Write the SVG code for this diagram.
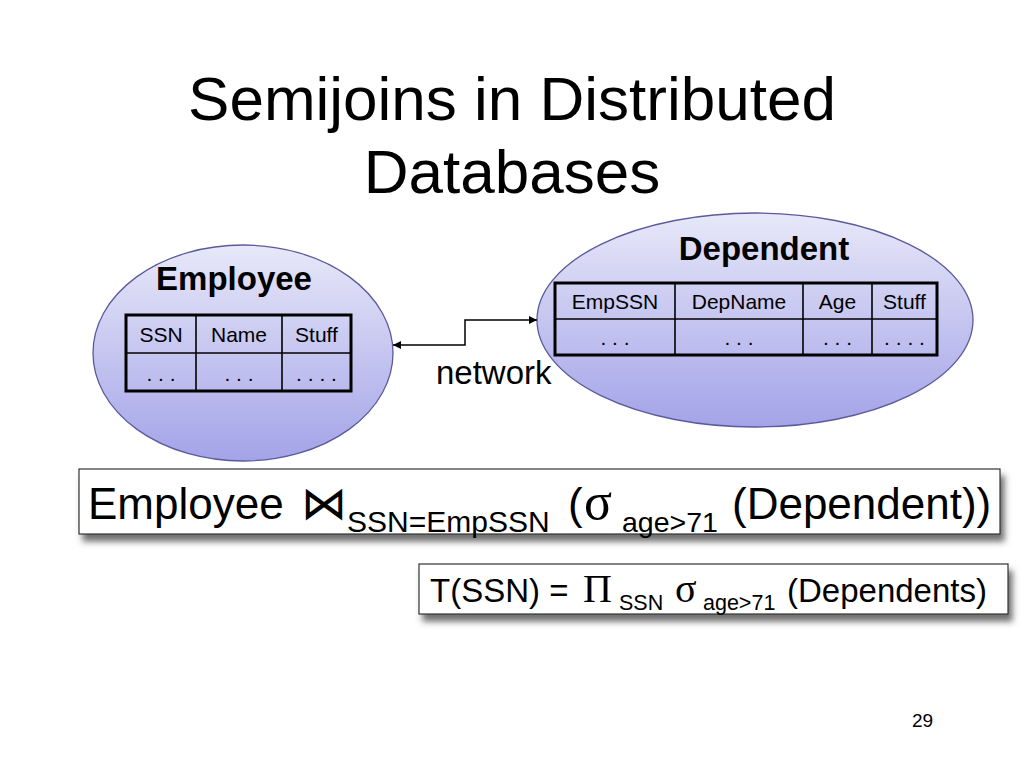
<svg xmlns="http://www.w3.org/2000/svg" width="1024" height="768" viewBox="0 0 1024 768">
  <defs>
    <linearGradient id="blob" x1="0" y1="0" x2="0" y2="1">
      <stop offset="0" stop-color="#e8e8f9"/>
      <stop offset="1" stop-color="#a3a3e8"/>
    </linearGradient>
    <filter id="shadow" x="-5%" y="-20%" width="112%" height="160%">
      <feGaussianBlur in="SourceAlpha" stdDeviation="3"/>
      <feOffset dx="4" dy="7" result="b"/>
      <feFlood flood-color="#404040" flood-opacity="0.75"/>
      <feComposite in2="b" operator="in"/>
      <feMerge><feMergeNode/><feMergeNode in="SourceGraphic"/></feMerge>
    </filter>
    <marker id="arr" viewBox="0 0 10 10" refX="10" refY="5" markerWidth="10" markerHeight="8" markerUnits="userSpaceOnUse" orient="auto-start-reverse">
      <path d="M0,0 L10,5 L0,10 z" fill="#000"/>
    </marker>
    <style>
      .sans { font-family: "Liberation Sans", Arial, sans-serif; fill: #000; }
      .serif { font-family: "Liberation Serif", "Times New Roman", serif; fill: #000; }
      .math { font-family: "DejaVu Sans", sans-serif; fill: #000; }
      .blob { fill: url(#blob); stroke: #5a5a9c; stroke-width: 1.3; }
      .outer { fill: none; stroke: #000; stroke-width: 3; }
      .inner { stroke: #000; stroke-width: 1.6; }
      .hdr { font-size: 21px; text-anchor: middle; }
      .box { fill: #fff; stroke: #333; stroke-width: 1.2; }
      .conn { fill: none; stroke: #000; stroke-width: 1.5; }
    </style>
  </defs>

  <rect width="1024" height="768" fill="#fff"/>

  <g id="title" class="sans" font-size="62" text-anchor="middle">
    <text x="512" y="120">Semijoins in Distributed</text>
    <text x="512" y="193">Databases</text>
  </g>

  <g id="employee">
    <ellipse class="blob" cx="243" cy="353" rx="150" ry="108"/>
    <text class="sans" x="234" y="290" font-size="33" font-weight="bold" text-anchor="middle">Employee</text>
    <rect class="outer" x="126" y="315" width="225" height="76"/>
    <line class="inner" x1="126" y1="353" x2="351" y2="353"/>
    <line class="inner" x1="196" y1="315" x2="196" y2="391"/>
    <line class="inner" x1="282" y1="315" x2="282" y2="391"/>
    <g class="sans hdr">
      <text x="161" y="342">SSN</text>
      <text x="239" y="342">Name</text>
      <text x="316.5" y="342">Stuff</text>
      <text x="161" y="381">. . .</text>
      <text x="239" y="381">. . .</text>
      <text x="316.5" y="381">. . . .</text>
    </g>
  </g>

  <g id="dependent">
    <ellipse class="blob" cx="755" cy="320" rx="218" ry="107"/>
    <text class="sans" x="764" y="260" font-size="33" font-weight="bold" text-anchor="middle">Dependent</text>
    <rect class="outer" x="555" y="283" width="382" height="72"/>
    <line class="inner" x1="555" y1="319" x2="937" y2="319"/>
    <line class="inner" x1="675" y1="283" x2="675" y2="355"/>
    <line class="inner" x1="803" y1="283" x2="803" y2="355"/>
    <line class="inner" x1="872" y1="283" x2="872" y2="355"/>
    <g class="sans hdr">
      <text x="615" y="309">EmpSSN</text>
      <text x="739" y="309">DepName</text>
      <text x="837.5" y="309">Age</text>
      <text x="904.5" y="309">Stuff</text>
      <text x="615" y="345">. . .</text>
      <text x="739" y="345">. . .</text>
      <text x="837.5" y="345">. . .</text>
      <text x="904.5" y="345">. . . .</text>
    </g>
  </g>

  <g id="connectors">
    <path class="conn" d="M393,345 L465,345 L465,320 L537,320" marker-start="url(#arr)" marker-end="url(#arr)"/>
    <text class="sans" x="436" y="384" font-size="33">network</text>
  </g>

  <g id="formula-join">
    <rect class="box" x="79" y="469" width="921" height="65" filter="url(#shadow)"/>
    <text class="sans" x="88" y="519" font-size="44">Employee</text>
    <text class="math" x="301" y="519" font-size="46" font-weight="200">⋈</text>
    <text class="sans" x="347" y="532" font-size="30">SSN=EmpSSN</text>
    <text class="sans" x="568" y="519" font-size="44">(</text>
    <text class="serif" x="584" y="519" font-size="52">σ</text>
    <text class="sans" x="622" y="532" font-size="28.5">age&gt;71</text>
    <text class="sans" x="732" y="519" font-size="44">(Dependent))</text>
  </g>

  <g id="formula-t">
    <rect class="box" x="419" y="564" width="589" height="50" filter="url(#shadow)"/>
    <text class="sans" x="430" y="602" font-size="33">T(SSN) =</text>
    <text class="serif" x="583" y="602" font-size="40">Π</text>
    <text class="sans" x="619" y="610" font-size="21.5">SSN</text>
    <text class="serif" x="675" y="602" font-size="40">σ</text>
    <text class="sans" x="703" y="610" font-size="21.5">age&gt;71</text>
    <text class="sans" x="787" y="602" font-size="33">(Dependents)</text>
  </g>

  <text id="page-number" class="sans" x="912" y="727" font-size="19">29</text>
</svg>
